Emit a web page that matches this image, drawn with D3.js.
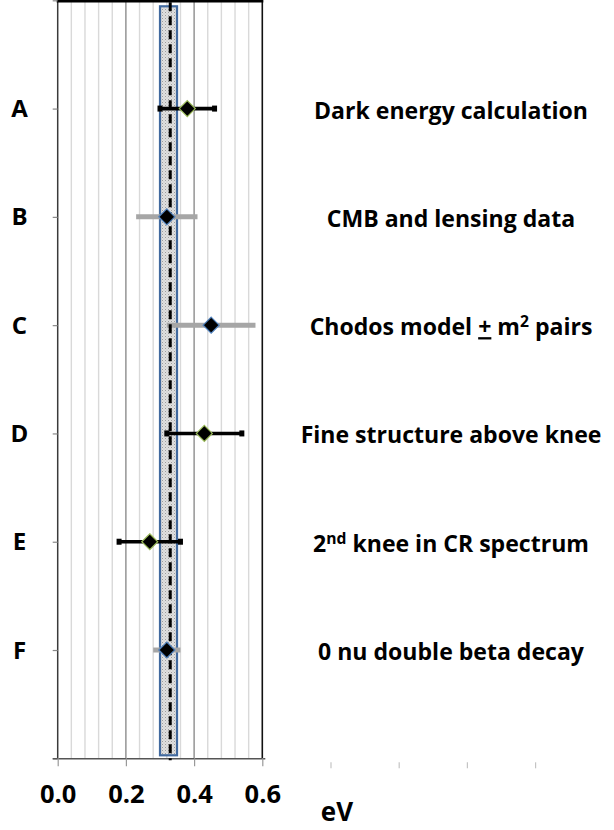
<!DOCTYPE html>
<html>
<head>
<meta charset="utf-8">
<script src="https://cdn.jsdelivr.net/npm/d3@7"></script>
<style>
  html, body { margin: 0; padding: 0; background: #ffffff; }
  svg { display: block; }
  text { font-family: "Open Sans", Lato, "Liberation Sans", sans-serif; font-weight: bold; fill: #000; }
</style>
</head>
<body>
<svg id="chart" width="614" height="830"></svg>
<script>
// ---- data ----
const categories = ["A", "B", "C", "D", "E", "F"];
const descriptions = [
  [{ t: "Dark energy calculation" }],
  [{ t: "CMB and lensing data" }],
  [{ t: "Chodos model " }, { t: "+", u: true }, { t: " m" }, { t: "2", sup: true }, { t: " pairs" }],
  [{ t: "Fine structure above knee" }],
  [{ t: "2" }, { t: "nd", sup: true }, { t: " knee in CR spectrum" }],
  [{ t: "0 nu double beta decay" }]
];
const centers = [0.38, 0.32, 0.45, 0.43, 0.27, 0.32];
const lows    = [0.30, 0.23, 0.32, 0.32, 0.18, 0.28];
const highs   = [0.46, 0.41, 0.58, 0.54, 0.36, 0.36];
const series  = ["theory", "data", "data", "theory", "theory", "data"];
const bandRange = [0.30, 0.35];
const bandMean = 0.33;
const xTicks = [0.0, 0.2, 0.4, 0.6];
const extraTicks = [0.8, 1.0, 1.2, 1.4];
const xUnit = "eV";

// ---- layout ----
const svg = d3.select("#chart");
const x = d3.scaleLinear().domain([0, 0.6]).range([57.7, 262.3]);
const y = d3.scaleLinear().domain([0, 7]).range([758.3, 0.3]);
const catY = (i) => y(categories.length - i);

// pattern for the band
const defs = svg.append("defs");
const pat = defs.append("pattern").attr("id", "dots").attr("patternUnits", "userSpaceOnUse")
  .attr("width", 3).attr("height", 3);
pat.append("rect").attr("width", 3).attr("height", 3).attr("fill", "#e0e0e0");
pat.append("rect").attr("x", 0).attr("y", 0).attr("width", 1).attr("height", 1).attr("fill", "#9c9c9c");
pat.append("rect").attr("x", 1.5).attr("y", 1.5).attr("width", 1).attr("height", 1).attr("fill", "#b8b8b8");

// gridlines
const minor = d3.range(1, 15).map(i => +(i * 0.04).toFixed(2)).filter(v => Math.abs(v - 0.2) > 1e-6 && Math.abs(v - 0.4) > 1e-6);
svg.append("g").selectAll("line").data(minor).join("line")
  .attr("x1", d => x(d)).attr("x2", d => x(d))
  .attr("y1", y(7)).attr("y2", y(0))
  .attr("stroke", "#d9d9d9").attr("stroke-width", 1.4);
svg.append("g").selectAll("line").data([0.2, 0.4]).join("line")
  .attr("x1", d => x(d)).attr("x2", d => x(d))
  .attr("y1", y(7)).attr("y2", y(0))
  .attr("stroke", "#7a7a7a").attr("stroke-width", 1.2);

// borders
svg.append("line").attr("x1", x(0)).attr("x2", x(0)).attr("y1", y(7)).attr("y2", y(0))
  .attr("stroke", "#3a3a3a").attr("stroke-width", 1.5);
svg.append("line").attr("x1", x(0.6)).attr("x2", x(0.6)).attr("y1", y(7)).attr("y2", y(0))
  .attr("stroke", "#111").attr("stroke-width", 1.6);
svg.append("line").attr("x1", x(0) - 1).attr("x2", x(0.6) + 1).attr("y1", y(7) + 1).attr("y2", y(7) + 1)
  .attr("stroke", "#000").attr("stroke-width", 2.6);

// axes
const yAxis = svg.append("g").attr("transform", `translate(${x(0)},0)`)
  .call(d3.axisLeft(y).tickValues(d3.range(0, 8)).tickSize(5).tickFormat(""));
yAxis.select(".domain").remove();
yAxis.selectAll(".tick line").attr("stroke", "#888").attr("stroke-width", 1.2);

const xAxis = svg.append("g").attr("transform", `translate(0,${y(0)})`)
  .call(d3.axisBottom(x).tickValues(xTicks).tickSize(8).tickSizeOuter(0).tickPadding(19).tickFormat(d3.format(".1f")));
xAxis.select(".domain").attr("stroke", "#555").attr("stroke-width", 1.6).attr("d", `M${x(0) - 5},0.5H${x(0.6) + 3}`);
xAxis.selectAll(".tick line").attr("stroke", "#999").attr("stroke-width", 1.2);
xAxis.selectAll(".tick text").attr("font-size", 25.5).attr("font-family", "'Open Sans', sans-serif").attr("font-weight", "bold").attr("fill", "#000");

const xExtra = svg.append("g").attr("transform", `translate(0,${y(0) + 4})`)
  .call(d3.axisBottom(x).tickValues(extraTicks).tickSize(6).tickFormat(""));
xExtra.select(".domain").remove();
xExtra.selectAll(".tick line").attr("stroke", "#c4c4c4").attr("stroke-width", 1.2);

svg.append("text").attr("x", 337).attr("y", 821).attr("text-anchor", "middle")
  .attr("font-size", 26).text(xUnit);

// band
svg.append("rect")
  .attr("x", x(bandRange[0])).attr("y", y(7) + 6)
  .attr("width", x(bandRange[1]) - x(bandRange[0]))
  .attr("height", y(0) - y(7) - 9)
  .attr("fill", "url(#dots)").attr("stroke", "#41699e").attr("stroke-width", 2.2);

// error bars
const idx = d3.range(categories.length);
const gBars = svg.append("g");
gBars.selectAll("line").data(idx).join("line")
  .attr("x1", i => x(lows[i])).attr("x2", i => x(highs[i]))
  .attr("y1", i => catY(i)).attr("y2", i => catY(i))
  .attr("stroke", i => series[i] === "theory" ? "#000" : "#a6a6a6")
  .attr("stroke-width", i => series[i] === "theory" ? 3.6 : 5);
const capIdx = idx.filter(i => series[i] === "theory");
gBars.selectAll("rect.cap").data(capIdx.flatMap(i => [[i, lows[i]], [i, highs[i]]])).join("rect")
  .attr("class", "cap")
  .attr("x", d => x(d[1]) - 2.5).attr("y", d => catY(d[0]) - 3)
  .attr("width", 5).attr("height", 6).attr("fill", "#000");

// dashed mean line
svg.append("line").attr("x1", x(bandMean)).attr("x2", x(bandMean))
  .attr("y1", y(7)).attr("y2", y(0) + 2)
  .attr("stroke", "#000").attr("stroke-width", 3).attr("stroke-dasharray", "9,5")
  .attr("stroke-dashoffset", -2);

// diamonds
const r = 8;
svg.append("g").selectAll("path").data(idx).join("path")
  .attr("d", i => {
    const cx = x(centers[i]), cy = catY(i);
    return `M${cx},${cy - r}L${cx + r},${cy}L${cx},${cy + r}L${cx - r},${cy}Z`;
  })
  .attr("fill", "#000")
  .attr("stroke", i => series[i] === "theory" ? "#9bbb59" : "#4f81bd")
  .attr("stroke-width", 1.2);

// category labels
svg.append("g").selectAll("text").data(idx).join("text")
  .attr("x", 19.5).attr("y", i => catY(i) + 8.5).attr("text-anchor", "middle")
  .attr("font-size", 24).text(i => categories[i]);

// descriptions
const baseSize = 22;
const desc = svg.append("g").selectAll("text").data(idx).join("text")
  .attr("x", 451).attr("y", i => catY(i) + 10).attr("text-anchor", "middle")
  .attr("font-size", baseSize);
desc.each(function (i) {
  const t = d3.select(this);
  let raised = false;
  descriptions[i].forEach(seg => {
    const ts = t.append("tspan").text(seg.t);
    if (seg.sup) { ts.attr("font-size", "0.68em").attr("dy", -8); raised = true; }
    else if (raised) { ts.attr("dy", 8); raised = false; }
    if (seg.u) ts.attr("text-decoration", "underline");
  });
});
// fit the first description to the reference width (~274 px)
const w0 = desc.filter(i => i === 0).node().getComputedTextLength();
const fitted = Math.max(18, Math.min(24, baseSize * 274 / w0));
desc.attr("font-size", fitted);
</script>
</body>
</html>
